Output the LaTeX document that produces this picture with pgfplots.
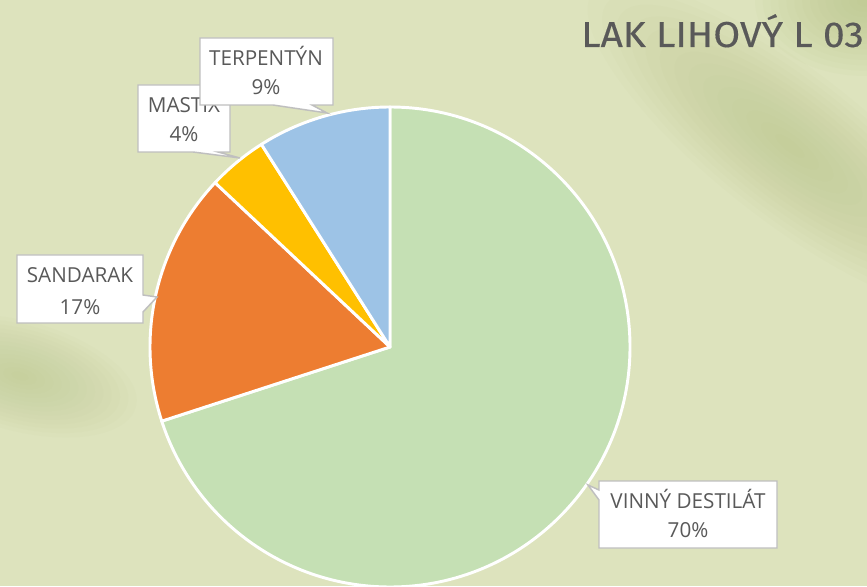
\documentclass[border=0pt]{standalone}
\usepackage{pgfplots}
\pgfplotsset{compat=1.18}
\usepackage{pgfplotstable}
\usepackage{fontspec}
\setmainfont{Open Sans}
\newfontfamily\titlefont[FakeBold=0.35, FakeStretch=1.08]{Fira Sans}
\definecolor{bgc}{RGB}{221,227,189}
\definecolor{darkbg}{RGB}{178,190,126}
\definecolor{pgreen}{RGB}{197,224,180}
\definecolor{porange}{RGB}{237,125,49}
\definecolor{pgold}{RGB}{255,192,0}
\definecolor{pblue}{RGB}{157,195,230}
\definecolor{txt}{RGB}{89,89,89}
\definecolor{boxgray}{RGB}{191,191,191}

\pgfplotstableread[col sep=comma]{
name,value
VINNÝ DESTILÁT,70
SANDARAK,17
MASTIX,4
TERPENTÝN,9
}\piedata

\newcommand\slice[2]{%
  \edef\tmp{\noexpand\fill[#2,draw=white,line width=2.2pt,line join=round]
    (axis cs:390,239) --
    (axis cs:{390+240*cos(\csname sa#1\endcsname)},{239+240*sin(\csname sa#1\endcsname)})
    arc[start angle=\csname sa#1\endcsname, end angle=\csname sb#1\endcsname, radius=240] -- cycle;}%
  \tmp}

% soft blob: stacked translucent ellipses
\newcommand\blob[6]{% x y rx ry rot opacity
  \pgfplotsinvokeforeach{0,...,13}{%
    \fill[darkbg, opacity=#6, rotate around={#5:(axis cs:#1,#2)}]
      (axis cs:#1,#2) ellipse [x radius={#3*(1-##1/14)}, y radius={#4*(1-##1/14)}];
  }}

\begin{document}
\begin{tikzpicture}
\def\cum{90}
\foreach \i in {0,...,3}{%
  \pgfplotstablegetelem{\i}{value}\of\piedata
  \pgfmathsetmacro\start{\cum}%
  \pgfmathsetmacro\stop{\cum-3.6*\pgfplotsretval}%
  \expandafter\xdef\csname sa\i\endcsname{\start}%
  \expandafter\xdef\csname sb\i\endcsname{\stop}%
  \xdef\cum{\stop}%
}
\begin{axis}[hide axis, scale only axis, width=650.25pt, height=439.5pt,
  xmin=0, xmax=867, ymin=0, ymax=586, clip=true]
  % background
  \fill[bgc] (axis cs:0,0) rectangle (axis cs:867,586);
  \blob{790}{440}{250}{75}{-38}{0.045}
  \blob{865}{585}{110}{75}{0}{0.05}
  \blob{20}{210}{120}{55}{-15}{0.035}
  % pie slices
  \slice{0}{pgreen}
  \slice{1}{porange}
  \slice{2}{pgold}
  \slice{3}{pblue}
  % title
  \node[anchor=base east, text=txt, font=\titlefont\fontsize{27}{30}\selectfont, inner sep=0pt]
    at (axis cs:864,539) {LAK LIHOVÝ L 03};
  % callouts
  \tikzset{callout/.style={fill=white, draw=boxgray, line width=1.1pt, line join=miter},
           lbl/.style={text=txt, font=\fontsize{15.5}{18}\selectfont, anchor=base, inner sep=0pt}}
  % MASTIX
  \draw[callout] (axis cs:138,501) -- (axis cs:230,501) -- (axis cs:230,434) -- (axis cs:218,434)
     -- (axis cs:240,428) -- (axis cs:193,434) -- (axis cs:138,434) -- cycle;
  \node[lbl] at (axis cs:184,473) {MASTIX};
  \node[lbl] at (axis cs:184,444) {4\%};
  % TERPENTYN
  \draw[callout] (axis cs:200,548) -- (axis cs:333,548) -- (axis cs:333,481) -- (axis cs:312,481)
     -- (axis cs:327,473) -- (axis cs:273,481) -- (axis cs:200,481) -- cycle;
  \node[lbl] at (axis cs:266,520) {TERPENTÝN};
  \node[lbl] at (axis cs:266,491) {9\%};
  % SANDARAK
  \draw[callout] (axis cs:17,331) -- (axis cs:143,331) -- (axis cs:143,291) -- (axis cs:157,289)
     -- (axis cs:143,274) -- (axis cs:143,263) -- (axis cs:17,263) -- cycle;
  \node[lbl] at (axis cs:80,303) {SANDARAK};
  \node[lbl] at (axis cs:80,272) {17\%};
  % VINNY DESTILAT
  \draw[callout] (axis cs:599,105) -- (axis cs:777,105) -- (axis cs:777,38) -- (axis cs:599,38)
     -- (axis cs:599,86) -- (axis cs:588,101) -- (axis cs:599,96) -- cycle;
  \node[lbl] at (axis cs:688,78) {VINNÝ DESTILÁT};
  \node[lbl] at (axis cs:688,49) {70\%};
\end{axis}
\pgfresetboundingbox
\useasboundingbox (current axis.south west) rectangle (current axis.north east);
\end{tikzpicture}
\end{document}
